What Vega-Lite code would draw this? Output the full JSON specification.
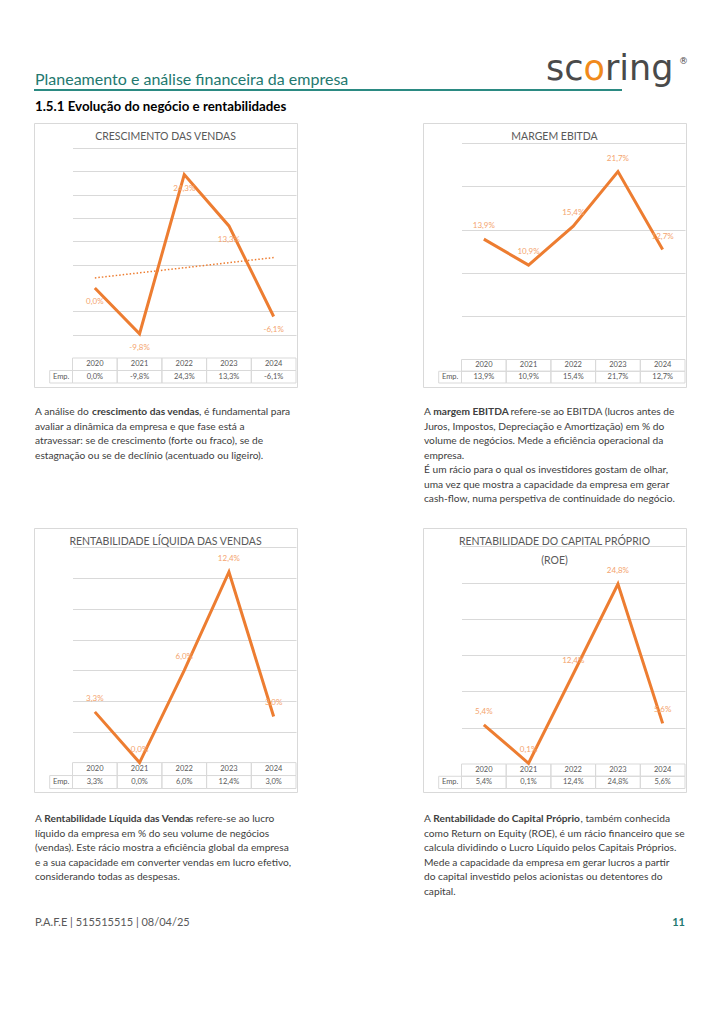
{
  "$schema": "https://vega.github.io/schema/vega-lite/v6.json",
  "background": "white",
  "padding": {"left": 33, "top": 50, "right": 0, "bottom": 0},
  "spacing": 0,
  "config": {
    "font": "Lato",
    "view": {"stroke": null},
    "locale": {"number": {"decimal": ",", "thousands": ".", "grouping": [3], "currency": ["", " €"], "minus": "-"}}
  },
  "datasets": {
    "vendas": [{"year": 2020, "v": 0.0}, {"year": 2021, "v": -0.098}, {"year": 2022, "v": 0.243}, {"year": 2023, "v": 0.133}, {"year": 2024, "v": -0.061}],
    "ebitda": [{"year": 2020, "v": 0.139}, {"year": 2021, "v": 0.109}, {"year": 2022, "v": 0.154}, {"year": 2023, "v": 0.217}, {"year": 2024, "v": 0.127}],
    "rlv": [{"year": 2020, "v": 0.033}, {"year": 2021, "v": 0.0}, {"year": 2022, "v": 0.06}, {"year": 2023, "v": 0.124}, {"year": 2024, "v": 0.03}],
    "roe": [{"year": 2020, "v": 0.054}, {"year": 2021, "v": 0.001}, {"year": 2022, "v": 0.124}, {"year": 2023, "v": 0.248}, {"year": 2024, "v": 0.056}]
  },
  "vconcat": [
    {
      "width": 653, "height": 72,
      "layer": [
        {"data": {"values": [{"t": "Planeamento e análise financeira da empresa"}]}, "mark": {"type": "text", "align": "left", "baseline": "alphabetic", "fontSize": 16, "color": "#23786f"}, "encoding": {"x": {"value": 1}, "y": {"value": 34.7}, "text": {"field": "t"}}},
        {"data": {"values": [{}]}, "mark": {"type": "rule", "color": "#2b8a82", "strokeWidth": 2}, "encoding": {"x": {"value": 0}, "x2": {"value": 588}, "y": {"value": 40}}},
        {"data": {"values": [{"t": "sc"}]}, "mark": {"type": "text", "align": "left", "baseline": "alphabetic", "font": "DejaVu Sans", "fontSize": 35, "color": "#4a4a4a"}, "encoding": {"x": {"value": 512}, "y": {"value": 30}, "text": {"field": "t"}}},
        {"data": {"values": [{"t": "o"}]}, "mark": {"type": "text", "align": "left", "baseline": "alphabetic", "font": "DejaVu Sans", "fontSize": 35, "color": "#F08A1C", "dx": 37.5}, "encoding": {"x": {"value": 512}, "y": {"value": 30}, "text": {"field": "t"}}},
        {"data": {"values": [{"t": "ring"}]}, "mark": {"type": "text", "align": "left", "baseline": "alphabetic", "font": "DejaVu Sans", "fontSize": 35, "color": "#4a4a4a", "dx": 58.9}, "encoding": {"x": {"value": 512}, "y": {"value": 30}, "text": {"field": "t"}}},
        {"data": {"values": [{"t": "®"}]}, "mark": {"type": "text", "align": "left", "baseline": "alphabetic", "font": "DejaVu Sans", "fontSize": 9, "color": "#4a4a4a"}, "encoding": {"x": {"value": 645}, "y": {"value": 14}, "text": {"field": "t"}}},
        {"data": {"values": [{"t": "1.5.1 Evolução do negócio e rentabilidades"}]}, "mark": {"type": "text", "align": "left", "baseline": "alphabetic", "fontSize": 13.3, "fontWeight": "bold", "color": "#000000"}, "encoding": {"x": {"value": 1}, "y": {"value": 60.5}, "text": {"field": "t"}}}
      ]
    },
    {
      "spacing": 124,
      "hconcat": [
        {
          "width": 263, "height": 264,
          "view": {"stroke": "#d9d9d9", "strokeWidth": 1},
          "title": {"text": "CRESCIMENTO DAS VENDAS", "offset": -15, "dy": 12, "baseline": "alphabetic", "fontSize": 10.5, "fontWeight": "normal", "color": "#595959", "anchor": "middle"},
          "data": {"name": "vendas"},
          "layer": [
            {"layer": [
              {"mark": {"type": "rect", "fillOpacity": 0, "stroke": "#d9d9d9", "strokeWidth": 1},
               "encoding": {"x": {"field": "year", "type": "ordinal", "axis": null, "scale": {"type": "band", "domain": [2020, 2021, 2022, 2023, 2024], "range": [38.5, 262], "paddingInner": 0, "paddingOuter": 0}},
                            "y": {"datum": "h", "type": "nominal", "axis": null, "scale": {"type": "band", "domain": ["h", "e"], "range": [235, 260], "paddingInner": 0, "paddingOuter": 0}}}},
              {"mark": {"type": "rect", "fillOpacity": 0, "stroke": "#d9d9d9", "strokeWidth": 1},
               "encoding": {"x": {"field": "year", "type": "ordinal", "axis": null}, "y": {"datum": "e", "type": "nominal", "axis": null}}},
              {"mark": {"type": "text", "fontSize": 7.5, "color": "#595959"},
               "encoding": {"x": {"field": "year", "type": "ordinal", "axis": null}, "y": {"datum": "h", "type": "nominal", "axis": null}, "text": {"field": "year", "type": "nominal"}}},
              {"mark": {"type": "text", "fontSize": 7.5, "color": "#595959"},
               "encoding": {"x": {"field": "year", "type": "ordinal", "axis": null}, "y": {"datum": "e", "type": "nominal", "axis": null}, "text": {"field": "v", "type": "quantitative", "format": ".1%"}}}
            ]},
            {"data": {"values": [{"lbl": "Emp."}]},
             "layer": [
              {"mark": {"type": "rect", "fillOpacity": 0, "stroke": "#d9d9d9", "strokeWidth": 1},
               "encoding": {"x": {"field": "lbl", "type": "nominal", "axis": null, "scale": {"type": "band", "domain": ["Emp."], "range": [15.7, 38.5], "paddingInner": 0, "paddingOuter": 0}},
                            "y": {"datum": "e", "type": "nominal", "axis": null, "scale": {"type": "band", "domain": ["h", "e"], "range": [235, 260], "paddingInner": 0, "paddingOuter": 0}}}},
              {"mark": {"type": "text", "fontSize": 7.5, "color": "#595959"},
               "encoding": {"x": {"field": "lbl", "type": "nominal", "axis": null}, "y": {"datum": "e", "type": "nominal", "axis": null}, "text": {"field": "lbl", "type": "nominal"}}}
            ]},
            {"layer": [
              {"mark": {"type": "line", "color": "#ED7D31", "strokeWidth": 3, "strokeJoin": "miter"},
               "encoding": {"x": {"field": "year", "type": "ordinal", "axis": null, "scale": {"type": "band", "domain": [2020, 2021, 2022, 2023, 2024], "range": [38.5, 262], "paddingInner": 0, "paddingOuter": 0}},
                            "y": {"field": "v", "type": "quantitative", "scale": {"domain": [-0.15, 0.3], "range": [235, 25], "nice": false, "zero": false},
                                  "axis": {"values": [-0.1, -0.05, 0.05, 0.1, 0.15, 0.2, 0.25, 0.3], "tickCount": 20, "grid": true, "gridColor": "#d9d9d9", "labels": false, "ticks": false, "domain": false, "title": null}}}},
              {"transform": [{"regression": "v", "on": "year"}],
               "mark": {"type": "line", "color": "#ED7D31", "strokeWidth": 1.5, "strokeDash": [1.5, 2]},
               "encoding": {"x": {"field": "year", "type": "ordinal"}, "y": {"field": "v", "type": "quantitative"}}},
              {"mark": {"type": "text", "fontSize": 8, "color": "#F4A46E", "dy": 14},
               "encoding": {"x": {"field": "year", "type": "ordinal"}, "y": {"field": "v", "type": "quantitative"}, "text": {"field": "v", "type": "quantitative", "format": ".1%"}}}
            ]}
          ],
          "resolve": {"scale": {"x": "independent", "y": "independent"}}
        },
        {
          "width": 263, "height": 264,
          "view": {"stroke": "#d9d9d9", "strokeWidth": 1},
          "title": {"text": "MARGEM EBITDA", "offset": -16, "dy": 11, "baseline": "alphabetic", "fontSize": 10.5, "fontWeight": "normal", "color": "#595959", "anchor": "middle"},
          "data": {"name": "ebitda"},
          "layer": [
            {"layer": [
              {"mark": {"type": "rect", "fillOpacity": 0, "stroke": "#d9d9d9", "strokeWidth": 1},
               "encoding": {"x": {"field": "year", "type": "ordinal", "axis": null, "scale": {"type": "band", "domain": [2020, 2021, 2022, 2023, 2024], "range": [38.5, 262], "paddingInner": 0, "paddingOuter": 0}},
                            "y": {"datum": "h", "type": "nominal", "axis": null, "scale": {"type": "band", "domain": ["h", "e"], "range": [236.5, 260], "paddingInner": 0, "paddingOuter": 0}}}},
              {"mark": {"type": "rect", "fillOpacity": 0, "stroke": "#d9d9d9", "strokeWidth": 1},
               "encoding": {"x": {"field": "year", "type": "ordinal", "axis": null}, "y": {"datum": "e", "type": "nominal", "axis": null}}},
              {"mark": {"type": "text", "fontSize": 7.5, "color": "#595959"},
               "encoding": {"x": {"field": "year", "type": "ordinal", "axis": null}, "y": {"datum": "h", "type": "nominal", "axis": null}, "text": {"field": "year", "type": "nominal"}}},
              {"mark": {"type": "text", "fontSize": 7.5, "color": "#595959"},
               "encoding": {"x": {"field": "year", "type": "ordinal", "axis": null}, "y": {"datum": "e", "type": "nominal", "axis": null}, "text": {"field": "v", "type": "quantitative", "format": ".1%"}}}
            ]},
            {"data": {"values": [{"lbl": "Emp."}]},
             "layer": [
              {"mark": {"type": "rect", "fillOpacity": 0, "stroke": "#d9d9d9", "strokeWidth": 1},
               "encoding": {"x": {"field": "lbl", "type": "nominal", "axis": null, "scale": {"type": "band", "domain": ["Emp."], "range": [15.7, 38.5], "paddingInner": 0, "paddingOuter": 0}},
                            "y": {"datum": "e", "type": "nominal", "axis": null, "scale": {"type": "band", "domain": ["h", "e"], "range": [236.5, 260], "paddingInner": 0, "paddingOuter": 0}}}},
              {"mark": {"type": "text", "fontSize": 7.5, "color": "#595959"},
               "encoding": {"x": {"field": "lbl", "type": "nominal", "axis": null}, "y": {"datum": "e", "type": "nominal", "axis": null}, "text": {"field": "lbl", "type": "nominal"}}}
            ]},
            {"layer": [
              {"mark": {"type": "line", "color": "#ED7D31", "strokeWidth": 3, "strokeJoin": "miter"},
               "encoding": {"x": {"field": "year", "type": "ordinal", "axis": null, "scale": {"type": "band", "domain": [2020, 2021, 2022, 2023, 2024], "range": [38.5, 262], "paddingInner": 0, "paddingOuter": 0}},
                            "y": {"field": "v", "type": "quantitative", "scale": {"domain": [0, 0.25], "range": [236.5, 20], "nice": false, "zero": false},
                                  "axis": {"values": [0.05, 0.1, 0.15, 0.2, 0.25], "tickCount": 20, "grid": true, "gridColor": "#d9d9d9", "labels": false, "ticks": false, "domain": false, "title": null}}}},
              {"mark": {"type": "text", "fontSize": 8, "color": "#F4A46E", "dy": -13},
               "encoding": {"x": {"field": "year", "type": "ordinal"}, "y": {"field": "v", "type": "quantitative"}, "text": {"field": "v", "type": "quantitative", "format": ".1%"}}}
            ]}
          ],
          "resolve": {"scale": {"x": "independent", "y": "independent"}}
        }
      ]
    },
    {
      "spacing": 126,
      "hconcat": [
        {
          "width": 263, "height": 139,
          "layer": [
            {"data": {"values": [{"l": 1, "t": "A análise do "}, {"l": 2, "t": "avaliar a dinâmica da empresa e que fase está a"}, {"l": 3, "t": "atravessar: se de crescimento (forte ou fraco), se de"}, {"l": 4, "t": "estagnação ou se de declínio (acentuado ou ligeiro)."}]},
             "mark": {"type": "text", "align": "left", "baseline": "middle", "fontSize": 10.2, "color": "#404040"},
             "encoding": {"x": {"value": 1}, "y": {"field": "l", "type": "ordinal", "axis": null, "scale": {"type": "point", "domain": [1, 2, 3, 4], "range": [24, 67.5], "padding": 0}}, "text": {"field": "t"}}},
            {"data": {"values": [{"l": 1, "t": "crescimento das vendas"}]},
             "mark": {"type": "text", "align": "left", "baseline": "middle", "fontSize": 10.2, "fontWeight": "bold", "color": "#404040", "dx": 57},
             "encoding": {"x": {"value": 1}, "y": {"field": "l", "type": "ordinal", "axis": null}, "text": {"field": "t"}}},
            {"data": {"values": [{"l": 1, "t": ", é fundamental para"}]},
             "mark": {"type": "text", "align": "left", "baseline": "middle", "fontSize": 10.2, "color": "#404040", "dx": 164},
             "encoding": {"x": {"value": 1}, "y": {"field": "l", "type": "ordinal", "axis": null}, "text": {"field": "t"}}}
          ]
        },
        {
          "width": 263, "height": 139,
          "layer": [
            {"data": {"values": [{"l": 1, "t": "A "}, {"l": 2, "t": "Juros, Impostos, Depreciação e Amortização) em % do"}, {"l": 3, "t": "volume de negócios. Mede a eficiência operacional da"}, {"l": 4, "t": "empresa."}, {"l": 5, "t": "É um rácio para o qual os investidores gostam de olhar,"}, {"l": 6, "t": "uma vez que mostra a capacidade da empresa em gerar"}, {"l": 7, "t": "cash-flow, numa perspetiva de continuidade do negócio."}]},
             "mark": {"type": "text", "align": "left", "baseline": "middle", "fontSize": 10.2, "color": "#404040"},
             "encoding": {"x": {"value": 1}, "y": {"field": "l", "type": "ordinal", "axis": null, "scale": {"type": "point", "domain": [1, 2, 3, 4, 5, 6, 7], "range": [24, 111], "padding": 0}}, "text": {"field": "t"}}},
            {"data": {"values": [{"l": 1, "t": "margem EBITDA"}]},
             "mark": {"type": "text", "align": "left", "baseline": "middle", "fontSize": 10.2, "fontWeight": "bold", "color": "#404040", "dx": 9.3},
             "encoding": {"x": {"value": 1}, "y": {"field": "l", "type": "ordinal", "axis": null}, "text": {"field": "t"}}},
            {"data": {"values": [{"l": 1, "t": " refere-se ao EBITDA (lucros antes de"}]},
             "mark": {"type": "text", "align": "left", "baseline": "middle", "fontSize": 10.2, "color": "#404040", "dx": 86.5},
             "encoding": {"x": {"value": 1}, "y": {"field": "l", "type": "ordinal", "axis": null}, "text": {"field": "t"}}}
          ]
        }
      ]
    },
    {
      "spacing": 124,
      "hconcat": [
        {
          "width": 263, "height": 264,
          "view": {"stroke": "#d9d9d9", "strokeWidth": 1},
          "title": {"text": "RENTABILIDADE LÍQUIDA DAS VENDAS", "offset": -15.5, "dy": 12, "baseline": "alphabetic", "fontSize": 10.5, "fontWeight": "normal", "color": "#595959", "anchor": "middle"},
          "data": {"name": "rlv"},
          "layer": [
            {"layer": [
              {"mark": {"type": "rect", "fillOpacity": 0, "stroke": "#d9d9d9", "strokeWidth": 1},
               "encoding": {"x": {"field": "year", "type": "ordinal", "axis": null, "scale": {"type": "band", "domain": [2020, 2021, 2022, 2023, 2024], "range": [38.5, 262], "paddingInner": 0, "paddingOuter": 0}},
                            "y": {"datum": "h", "type": "nominal", "axis": null, "scale": {"type": "band", "domain": ["h", "e"], "range": [234.6, 260.5], "paddingInner": 0, "paddingOuter": 0}}}},
              {"mark": {"type": "rect", "fillOpacity": 0, "stroke": "#d9d9d9", "strokeWidth": 1},
               "encoding": {"x": {"field": "year", "type": "ordinal", "axis": null}, "y": {"datum": "e", "type": "nominal", "axis": null}}},
              {"mark": {"type": "text", "fontSize": 7.5, "color": "#595959"},
               "encoding": {"x": {"field": "year", "type": "ordinal", "axis": null}, "y": {"datum": "h", "type": "nominal", "axis": null}, "text": {"field": "year", "type": "nominal"}}},
              {"mark": {"type": "text", "fontSize": 7.5, "color": "#595959"},
               "encoding": {"x": {"field": "year", "type": "ordinal", "axis": null}, "y": {"datum": "e", "type": "nominal", "axis": null}, "text": {"field": "v", "type": "quantitative", "format": ".1%"}}}
            ]},
            {"data": {"values": [{"lbl": "Emp."}]},
             "layer": [
              {"mark": {"type": "rect", "fillOpacity": 0, "stroke": "#d9d9d9", "strokeWidth": 1},
               "encoding": {"x": {"field": "lbl", "type": "nominal", "axis": null, "scale": {"type": "band", "domain": ["Emp."], "range": [15.7, 38.5], "paddingInner": 0, "paddingOuter": 0}},
                            "y": {"datum": "e", "type": "nominal", "axis": null, "scale": {"type": "band", "domain": ["h", "e"], "range": [234.6, 260.5], "paddingInner": 0, "paddingOuter": 0}}}},
              {"mark": {"type": "text", "fontSize": 7.5, "color": "#595959"},
               "encoding": {"x": {"field": "lbl", "type": "nominal", "axis": null}, "y": {"datum": "e", "type": "nominal", "axis": null}, "text": {"field": "lbl", "type": "nominal"}}}
            ]},
            {"layer": [
              {"mark": {"type": "line", "color": "#ED7D31", "strokeWidth": 3, "strokeJoin": "miter"},
               "encoding": {"x": {"field": "year", "type": "ordinal", "axis": null, "scale": {"type": "band", "domain": [2020, 2021, 2022, 2023, 2024], "range": [38.5, 262], "paddingInner": 0, "paddingOuter": 0}},
                            "y": {"field": "v", "type": "quantitative", "scale": {"domain": [0, 0.14], "range": [234.6, 19.4], "nice": false, "zero": false},
                                  "axis": {"values": [0.02, 0.04, 0.06, 0.08, 0.1, 0.12, 0.14], "tickCount": 20, "grid": true, "gridColor": "#d9d9d9", "labels": false, "ticks": false, "domain": false, "title": null}}}},
              {"mark": {"type": "text", "fontSize": 8, "color": "#F4A46E", "dy": -13},
               "encoding": {"x": {"field": "year", "type": "ordinal"}, "y": {"field": "v", "type": "quantitative"}, "text": {"field": "v", "type": "quantitative", "format": ".1%"}}}
            ]}
          ],
          "resolve": {"scale": {"x": "independent", "y": "independent"}}
        },
        {
          "width": 263, "height": 264,
          "view": {"stroke": "#d9d9d9", "strokeWidth": 1},
          "title": {"text": ["RENTABILIDADE DO CAPITAL PRÓPRIO", "(ROE)"], "offset": -15.6, "dy": 31, "lineHeight": 19, "baseline": "alphabetic", "fontSize": 10.5, "fontWeight": "normal", "color": "#595959", "anchor": "middle"},
          "data": {"name": "roe"},
          "layer": [
            {"layer": [
              {"mark": {"type": "rect", "fillOpacity": 0, "stroke": "#d9d9d9", "strokeWidth": 1},
               "encoding": {"x": {"field": "year", "type": "ordinal", "axis": null, "scale": {"type": "band", "domain": [2020, 2021, 2022, 2023, 2024], "range": [38.5, 262], "paddingInner": 0, "paddingOuter": 0}},
                            "y": {"datum": "h", "type": "nominal", "axis": null, "scale": {"type": "band", "domain": ["h", "e"], "range": [236, 260.5], "paddingInner": 0, "paddingOuter": 0}}}},
              {"mark": {"type": "rect", "fillOpacity": 0, "stroke": "#d9d9d9", "strokeWidth": 1},
               "encoding": {"x": {"field": "year", "type": "ordinal", "axis": null}, "y": {"datum": "e", "type": "nominal", "axis": null}}},
              {"mark": {"type": "text", "fontSize": 7.5, "color": "#595959"},
               "encoding": {"x": {"field": "year", "type": "ordinal", "axis": null}, "y": {"datum": "h", "type": "nominal", "axis": null}, "text": {"field": "year", "type": "nominal"}}},
              {"mark": {"type": "text", "fontSize": 7.5, "color": "#595959"},
               "encoding": {"x": {"field": "year", "type": "ordinal", "axis": null}, "y": {"datum": "e", "type": "nominal", "axis": null}, "text": {"field": "v", "type": "quantitative", "format": ".1%"}}}
            ]},
            {"data": {"values": [{"lbl": "Emp."}]},
             "layer": [
              {"mark": {"type": "rect", "fillOpacity": 0, "stroke": "#d9d9d9", "strokeWidth": 1},
               "encoding": {"x": {"field": "lbl", "type": "nominal", "axis": null, "scale": {"type": "band", "domain": ["Emp."], "range": [15.7, 38.5], "paddingInner": 0, "paddingOuter": 0}},
                            "y": {"datum": "e", "type": "nominal", "axis": null, "scale": {"type": "band", "domain": ["h", "e"], "range": [236, 260.5], "paddingInner": 0, "paddingOuter": 0}}}},
              {"mark": {"type": "text", "fontSize": 7.5, "color": "#595959"},
               "encoding": {"x": {"field": "lbl", "type": "nominal", "axis": null}, "y": {"datum": "e", "type": "nominal", "axis": null}, "text": {"field": "lbl", "type": "nominal"}}}
            ]},
            {"layer": [
              {"mark": {"type": "line", "color": "#ED7D31", "strokeWidth": 3, "strokeJoin": "miter"},
               "encoding": {"x": {"field": "year", "type": "ordinal", "axis": null, "scale": {"type": "band", "domain": [2020, 2021, 2022, 2023, 2024], "range": [38.5, 262], "paddingInner": 0, "paddingOuter": 0}},
                            "y": {"field": "v", "type": "quantitative", "scale": {"domain": [0, 0.3], "range": [236, 18.3], "nice": false, "zero": false},
                                  "axis": {"values": [0.05, 0.1, 0.15, 0.2, 0.25, 0.3], "tickCount": 20, "grid": true, "gridColor": "#d9d9d9", "labels": false, "ticks": false, "domain": false, "title": null}}}},
              {"mark": {"type": "text", "fontSize": 8, "color": "#F4A46E", "dy": -13},
               "encoding": {"x": {"field": "year", "type": "ordinal"}, "y": {"field": "v", "type": "quantitative"}, "text": {"field": "v", "type": "quantitative", "format": ".1%"}}}
            ]}
          ],
          "resolve": {"scale": {"x": "independent", "y": "independent"}}
        }
      ]
    },
    {
      "spacing": 126,
      "hconcat": [
        {
          "width": 263, "height": 113,
          "layer": [
            {"data": {"values": [{"l": 1, "t": "A "}, {"l": 2, "t": "líquido da empresa em % do seu volume de negócios"}, {"l": 3, "t": "(vendas). Este rácio mostra a eficiência global da empresa"}, {"l": 4, "t": "e a sua capacidade em converter vendas em lucro efetivo,"}, {"l": 5, "t": "considerando todas as despesas."}]},
             "mark": {"type": "text", "align": "left", "baseline": "middle", "fontSize": 10.2, "color": "#404040"},
             "encoding": {"x": {"value": 1}, "y": {"field": "l", "type": "ordinal", "axis": null, "scale": {"type": "point", "domain": [1, 2, 3, 4, 5], "range": [26, 84], "padding": 0}}, "text": {"field": "t"}}},
            {"data": {"values": [{"l": 1, "t": "Rentabilidade Líquida das Venda"}]},
             "mark": {"type": "text", "align": "left", "baseline": "middle", "fontSize": 10.2, "fontWeight": "bold", "color": "#404040", "dx": 9.3},
             "encoding": {"x": {"value": 1}, "y": {"field": "l", "type": "ordinal", "axis": null}, "text": {"field": "t"}}},
            {"data": {"values": [{"l": 1, "t": "s refere-se ao lucro"}]},
             "mark": {"type": "text", "align": "left", "baseline": "middle", "fontSize": 10.2, "color": "#404040", "dx": 154},
             "encoding": {"x": {"value": 1}, "y": {"field": "l", "type": "ordinal", "axis": null}, "text": {"field": "t"}}}
          ]
        },
        {
          "width": 263, "height": 113,
          "layer": [
            {"data": {"values": [{"l": 1, "t": "A "}, {"l": 2, "t": "como Return on Equity (ROE), é um rácio financeiro que se"}, {"l": 3, "t": "calcula dividindo o Lucro Líquido pelos Capitais Próprios."}, {"l": 4, "t": "Mede a capacidade da empresa em gerar lucros a partir"}, {"l": 5, "t": "do capital investido pelos acionistas ou detentores do"}, {"l": 6, "t": "capital."}]},
             "mark": {"type": "text", "align": "left", "baseline": "middle", "fontSize": 10.2, "color": "#404040"},
             "encoding": {"x": {"value": 1}, "y": {"field": "l", "type": "ordinal", "axis": null, "scale": {"type": "point", "domain": [1, 2, 3, 4, 5, 6], "range": [26, 98.5], "padding": 0}}, "text": {"field": "t"}}},
            {"data": {"values": [{"l": 1, "t": "Rentabilidade do Capital Próprio"}]},
             "mark": {"type": "text", "align": "left", "baseline": "middle", "fontSize": 10.2, "fontWeight": "bold", "color": "#404040", "dx": 9.3},
             "encoding": {"x": {"value": 1}, "y": {"field": "l", "type": "ordinal", "axis": null}, "text": {"field": "t"}}},
            {"data": {"values": [{"l": 1, "t": ", também conhecida"}]},
             "mark": {"type": "text", "align": "left", "baseline": "middle", "fontSize": 10.2, "color": "#404040", "dx": 156.5},
             "encoding": {"x": {"value": 1}, "y": {"field": "l", "type": "ordinal", "axis": null}, "text": {"field": "t"}}}
          ]
        }
      ]
    },
    {
      "width": 653, "height": 30,
      "layer": [
        {"data": {"values": [{"t": "P.A.F.E | 515515515 | 08/04/25"}]}, "mark": {"type": "text", "align": "left", "baseline": "middle", "fontSize": 11, "color": "#595959"}, "encoding": {"x": {"value": 1}, "y": {"value": 17}, "text": {"field": "t"}}},
        {"data": {"values": [{"t": "11"}]}, "mark": {"type": "text", "align": "right", "baseline": "middle", "fontSize": 11, "fontWeight": "bold", "color": "#23786f"}, "encoding": {"x": {"value": 651}, "y": {"value": 17}, "text": {"field": "t"}}}
      ]
    }
  ]
}
